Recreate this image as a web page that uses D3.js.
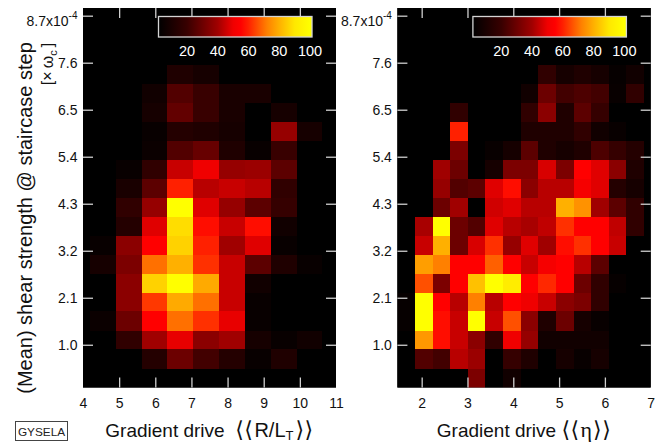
<!DOCTYPE html>
<html>
<head>
<meta charset="utf-8">
<script src="https://cdn.jsdelivr.net/npm/d3@7"></script>
<style>
  html, body { margin: 0; padding: 0; background: #fff; }
  svg { display: block; font-family: "Liberation Sans", Arial, Helvetica, sans-serif; }
</style>
</head>
<body>
<svg id="chart" width="667" height="445"></svg>
<script>
// Shear-strength bin edges (units of 1e-4 x omega_c), bottom to top
const shearEdges = [0, 0.44, 0.89, 1.33, 1.78, 2.22, 2.66, 3.11, 3.55, 4.00, 4.44,
                    4.88, 5.33, 5.77, 6.22, 6.66, 7.10, 7.55, 7.99, 8.44, 8.88];

// Gradient-drive bin edges
const rltEdges = [3.47, 4.19, 4.90, 5.62, 6.33, 7.05, 7.76, 8.48, 9.19, 9.91, 10.62, 11.34];
const etaEdges = [1.47, 1.85, 2.24, 2.62, 3.01, 3.39, 3.78, 4.16, 4.55, 4.93, 5.32,
                  5.70, 6.09, 6.47, 6.86, 7.24];

// Occurrence (normalised to 100), one row per shear bin from the bottom up
const rltCounts = [
  [0, 0, 0, 0, 0, 0, 0, 0, 0, 0, 0],
  [0, 0, 0, 13, 30, 22, 13, 3, 11, 0, 0],
  [0, 0, 17, 40, 49, 36, 40, 8, 3, 6, 0],
  [0, 4, 30, 55, 70, 62, 49, 3, 0, 0, 0],
  [0, 0, 36, 63, 79, 70, 45, 3, 0, 0, 0],
  [0, 0, 36, 86, 100, 79, 45, 6, 0, 0, 0],
  [0, 8, 33, 70, 80, 62, 45, 27, 11, 3, 0],
  [0, 3, 36, 55, 86, 60, 40, 48, 3, 0, 0],
  [0, 0, 13, 48, 88, 57, 45, 57, 6, 0, 0],
  [0, 0, 17, 38, 100, 48, 38, 27, 19, 0, 0],
  [0, 0, 9, 27, 60, 43, 45, 43, 17, 0, 0],
  [0, 0, 3, 17, 45, 50, 38, 39, 27, 0, 0],
  [0, 0, 0, 4, 25, 29, 11, 3, 20, 0, 0],
  [0, 0, 0, 3, 13, 11, 8, 0, 38, 8, 0],
  [0, 0, 0, 8, 28, 20, 9, 0, 8, 0, 0],
  [0, 0, 0, 6, 25, 20, 9, 9, 0, 0, 0],
  [0, 0, 0, 0, 11, 8, 0, 0, 0, 0, 0],
  [0, 0, 0, 0, 0, 0, 0, 0, 0, 0, 0],
  [0, 0, 0, 0, 0, 0, 0, 0, 0, 0, 0],
  [0, 0, 0, 0, 0, 0, 0, 0, 0, 0, 0]
];

const etaCounts = [
  [0, 0, 0, 0, 33, 0, 6, 0, 0, 0, 0, 0, 0, 0, 0],
  [0, 25, 22, 43, 39, 0, 19, 11, 0, 8, 3, 8, 0, 0, 0],
  [0, 76, 57, 45, 36, 17, 50, 38, 6, 6, 6, 6, 0, 0, 0],
  [2, 100, 57, 45, 100, 45, 66, 36, 11, 30, 8, 3, 0, 0, 0],
  [2, 100, 55, 43, 72, 43, 55, 50, 45, 36, 33, 17, 0, 0, 0],
  [0, 66, 33, 55, 83, 100, 92, 55, 61, 55, 30, 17, 2, 0, 0],
  [0, 77, 72, 55, 55, 68, 55, 45, 52, 55, 43, 27, 0, 0, 0],
  [0, 45, 80, 30, 47, 62, 38, 48, 40, 57, 62, 55, 45, 0, 0],
  [0, 41, 100, 30, 25, 48, 43, 41, 44, 62, 55, 55, 44, 17, 0],
  [0, 0, 30, 40, 0, 46, 48, 43, 43, 80, 75, 40, 27, 17, 0],
  [0, 0, 38, 25, 27, 48, 57, 36, 43, 43, 52, 48, 13, 8, 0],
  [0, 0, 40, 30, 0, 8, 33, 33, 47, 33, 55, 48, 36, 11, 0],
  [0, 0, 0, 33, 0, 3, 8, 27, 11, 8, 11, 24, 19, 13, 0],
  [0, 0, 0, 60, 0, 0, 0, 11, 11, 11, 17, 6, 3, 0, 0],
  [0, 0, 0, 17, 0, 0, 0, 17, 36, 11, 27, 19, 0, 0, 0],
  [0, 0, 0, 0, 0, 0, 0, 6, 30, 22, 24, 22, 3, 17, 0],
  [0, 0, 0, 0, 0, 0, 0, 0, 17, 8, 11, 8, 2, 6, 0],
  [0, 0, 0, 0, 0, 0, 0, 0, 0, 0, 0, 0, 0, 0, 0],
  [0, 0, 0, 0, 0, 0, 0, 0, 0, 0, 0, 0, 0, 0, 0],
  [0, 0, 0, 0, 0, 0, 0, 0, 0, 0, 0, 0, 0, 0, 0]
];

// Axis ticks
const shearTicks = [1.0, 2.1, 3.2, 4.3, 5.4, 6.5, 7.6, 8.7];
const rltTicks = [4, 5, 6, 7, 8, 9, 10, 11];
const etaTicks = [2, 3, 4, 5, 6, 7];
const colorbarTicks = [20, 40, 60, 80, 100];

// Black-red-yellow colour table
const cmapStops  = [0, 20, 40, 50, 55, 60, 72, 80, 90, 100];
const cmapColors = ["#000000", "#380000", "#a00000", "#f00000", "#ff0000",
                    "#ff2000", "#ff8000", "#ffb000", "#ffe800", "#ffff00"];
const colorbarRange = [1.5, 101.3];

const FONT = '"Liberation Sans", Arial, Helvetica, sans-serif';
const BRACKET_FONT = '"DejaVu Sans", sans-serif';
const TICK_COLOR = "#cfcfcf";
const TEXT_COLOR = "#111";

const svg = d3.select("#chart");
const defs = svg.append("defs");

const cmap = d3.scaleLinear()
  .domain(cmapStops).range(cmapColors)
  .interpolate(d3.interpolateRgb).clamp(true);

const plotTop = 8, plotBottom = 387.5;
const y = d3.scaleLinear()
  .domain([shearEdges[0], shearEdges[shearEdges.length - 1]])
  .range([plotBottom, plotTop]);

function styleAxis(sel, x0, x1, horizontal, scale) {
  sel.select(".domain").remove();
  sel.attr("font-family", FONT).attr("font-size", 14);
  sel.selectAll(".tick line").attr("stroke", TICK_COLOR).attr("stroke-width", 1.3);
  sel.selectAll(".tick text").attr("fill", TEXT_COLOR);
  // no tick marks sitting on the frame edges
  sel.selectAll(".tick").filter(d => {
    const p = scale(d);
    return horizontal ? (p < x0 + 1 || p > x1 - 1) : (p < plotTop + 1 || p > plotBottom - 1);
  }).select("line").remove();
}

function drawPanel(cfg) {
  const x = d3.scaleLinear().domain(cfg.xDomain).range([cfg.left, cfg.right]);
  const g = svg.append("g").attr("class", "panel-" + cfg.id);

  defs.append("clipPath").attr("id", "clip-" + cfg.id)
    .append("rect")
    .attr("x", cfg.left).attr("y", plotTop)
    .attr("width", cfg.right - cfg.left).attr("height", plotBottom - plotTop);

  g.append("rect")
    .attr("x", cfg.left).attr("y", plotTop)
    .attr("width", cfg.right - cfg.left).attr("height", plotBottom - plotTop)
    .attr("fill", "#000");

  const cells = [];
  cfg.counts.forEach((row, i) => row.forEach((v, j) => cells.push({ i, j, v })));

  g.append("g").attr("clip-path", `url(#clip-${cfg.id})`)
    .selectAll("rect").data(cells).join("rect")
    .attr("x", d => x(cfg.xEdges[d.j]))
    .attr("width", d => x(cfg.xEdges[d.j + 1]) - x(cfg.xEdges[d.j]))
    .attr("y", d => y(shearEdges[d.i + 1]))
    .attr("height", d => y(shearEdges[d.i]) - y(shearEdges[d.i + 1]))
    .attr("fill", d => cmap(d.v))
    .attr("shape-rendering", "crispEdges");

  // bottom axis with labels, inward ticks
  g.append("g").attr("transform", `translate(0,${plotBottom})`)
    .call(d3.axisBottom(x).tickValues(cfg.xTicks).tickFormat(d3.format("d"))
      .tickSizeInner(-10).tickSizeOuter(0).tickPadding(10.5))
    .call(s => styleAxis(s, cfg.left, cfg.right, true, x));

  // top mirror ticks
  g.append("g").attr("transform", `translate(0,${plotTop})`)
    .call(d3.axisTop(x).tickValues(cfg.xTicks).tickFormat("")
      .tickSizeInner(-10).tickSizeOuter(0))
    .call(s => styleAxis(s, cfg.left, cfg.right, true, x));

  // left axis with labels
  const left = g.append("g").attr("transform", `translate(${cfg.left},0)`)
    .call(d3.axisLeft(y).tickValues(shearTicks).tickFormat(d3.format(".1f"))
      .tickSizeInner(-10).tickSizeOuter(0).tickPadding(5.5))
    .call(s => styleAxis(s, cfg.left, cfg.right, false, y));

  // top label carries the scale factor
  left.selectAll(".tick").filter(d => d === shearTicks[shearTicks.length - 1])
    .select("text")
    .attr("dy", null).attr("y", 9.5)
    .text("8.7x10")
    .append("tspan").attr("dy", -7).attr("font-size", 10).text("-4");

  // right mirror ticks
  g.append("g").attr("transform", `translate(${cfg.right},0)`)
    .call(d3.axisRight(y).tickValues(shearTicks).tickFormat("")
      .tickSizeInner(-10).tickSizeOuter(0))
    .call(s => styleAxis(s, cfg.left, cfg.right, false, y));

  // colour bar
  const cbX0 = cfg.left + 75.5, cbX1 = cfg.left + 229, cbY = 16.5, cbH = 20.5;
  const cb = d3.scaleLinear().domain(colorbarRange).range([cbX0, cbX1]);
  const grad = defs.append("linearGradient").attr("id", "grad-" + cfg.id)
    .attr("x1", "0%").attr("x2", "100%").attr("y1", "0%").attr("y2", "0%");
  grad.selectAll("stop").data(cmapStops).join("stop")
    .attr("offset", d => Math.max(0, Math.min(1, (d - colorbarRange[0]) / (colorbarRange[1] - colorbarRange[0]))))
    .attr("stop-color", d => cmap(d));
  g.append("rect")
    .attr("x", cbX0).attr("y", cbY).attr("width", cbX1 - cbX0).attr("height", cbH)
    .attr("fill", `url(#grad-${cfg.id})`)
    .attr("stroke", "#d4d4d4").attr("stroke-width", 1.3);
  g.append("g").selectAll("text").data(colorbarTicks).join("text")
    .attr("x", d => cb(d)).attr("y", 56)
    .attr("text-anchor", "middle")
    .attr("fill", "#fff").attr("font-size", 14.5).attr("font-family", FONT)
    .text(d => d);

  // x-axis title
  const title = g.append("text")
    .attr("x", (cfg.left + cfg.right) / 2).attr("y", 436.5)
    .attr("text-anchor", "middle")
    .attr("font-size", 19).attr("font-family", FONT).attr("fill", TEXT_COLOR);
  cfg.title(title);
}

drawPanel({
  id: "rlt", left: 83, right: 336, xDomain: [4, 11],
  xEdges: rltEdges, counts: rltCounts, xTicks: rltTicks,
  title: t => {
    t.append("tspan").text("Gradient drive\u00a0 ");
    t.append("tspan").attr("font-family", BRACKET_FONT).attr("font-size", 22)
      .attr("letter-spacing", 0.5).text("\u27e8\u27e8");
    t.append("tspan").attr("dx", 1).attr("font-size", 20).text("R/L");
    t.append("tspan").attr("font-size", 13).attr("dy", 3).text("T");
    t.append("tspan").attr("dy", -3).attr("dx", 2)
      .attr("font-family", BRACKET_FONT).attr("font-size", 22)
      .attr("letter-spacing", 0.5).text("\u27e9\u27e9");
  }
});

drawPanel({
  id: "eta", left: 397.4, right: 650.7, xDomain: [1.47, 7.0],
  xEdges: etaEdges, counts: etaCounts, xTicks: etaTicks,
  title: t => {
    t.append("tspan").text("Gradient drive ");
    t.append("tspan").attr("font-family", BRACKET_FONT).attr("font-size", 22)
      .attr("letter-spacing", 0.5).text("\u27e8\u27e8");
    t.append("tspan").attr("dx", 1).attr("font-size", 22)
      .attr("font-family", '"Liberation Serif", "Times New Roman", serif').text("\u03b7");
    t.append("tspan").attr("dx", 1)
      .attr("font-family", BRACKET_FONT).attr("font-size", 22)
      .attr("letter-spacing", 0.5).text("\u27e9\u27e9");
  }
});

// shared y-axis title
svg.append("text")
  .attr("transform", "translate(31.5,218) rotate(-90)")
  .attr("text-anchor", "middle")
  .attr("font-size", 20).attr("font-family", FONT).attr("fill", TEXT_COLOR)
  .text("(Mean) shear strength @ staircase step");

const unit = svg.append("text")
  .attr("transform", "translate(53,64) rotate(-90)")
  .attr("text-anchor", "middle")
  .attr("font-size", 16).attr("font-family", FONT).attr("fill", TEXT_COLOR);
unit.append("tspan").text("[\u00d7\u2009\u03c9");
unit.append("tspan").attr("font-size", 11).attr("dy", 4).text("c");
unit.append("tspan").attr("dy", -4).text("\u2009]");

// code tag
svg.append("rect")
  .attr("x", 15.5).attr("y", 421.5).attr("width", 52).attr("height", 19)
  .attr("fill", "none").attr("stroke", "#444").attr("stroke-width", 1);
svg.append("text")
  .attr("x", 41.5).attr("y", 435.5).attr("text-anchor", "middle")
  .attr("font-size", 11.8).attr("font-family", FONT).attr("fill", "#222")
  .text("GYSELA");
</script>
</body>
</html>
